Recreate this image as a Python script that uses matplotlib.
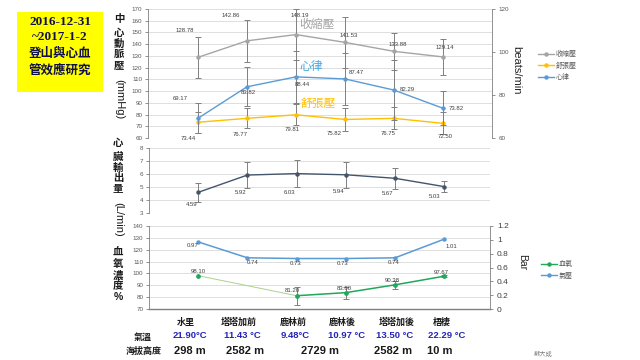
import matplotlib
matplotlib.use("Agg")
import matplotlib.pyplot as plt
from matplotlib.lines import Line2D
import numpy as np

plt.rcParams['font.family'] = ['Liberation Sans', 'Noto Sans CJK TC', 'DejaVu Sans']

# ----
# Data
# ----
sites = ["水里", "塔塔加前", "鹿林前", "鹿林後", "塔塔加後", "梧棲"]
temps = ["21.90°C", "11.43 °C", "9.48°C", "10.97 °C", "13.50 °C", "22.29 °C"]
altitudes = ["298 m", "2582 m", "2729 m", "2582 m", "10 m"]

systolic = [128.78, 142.86, 148.19, 141.53, 133.88, 129.14]
systolic_err = [17.5, 18, 22, 22, 16, 15]
diastolic = [73.44, 76.77, 79.81, 75.82, 76.75, 72.50]
diastolic_err = [9, 8.5, 9, 10, 9.5, 9.5]
heart_rate = [69.17, 83.82, 88.44, 87.47, 82.29, 73.82]
heart_rate_err = [7, 9, 12, 12, 14, 8]
cardiac_output = [4.59, 5.92, 6.03, 5.94, 5.67, 5.03]
cardiac_output_err = [0.75, 1.0, 1.05, 1.0, 0.8, 0.45]
spo2 = [98.10, np.nan, 81.20, 83.80, 90.38, 97.67]
spo2_err = [0, 0, 7.6, 5, 3.5, 1]
pressure = [0.97, 0.74, 0.73, 0.73, 0.74, 1.01]

x = np.arange(len(sites))

# colours
GRAY = "#a5a5a5"
GOLD = "#ffc000"
BLUE = "#5b9bd5"
NAVY = "#44546a"
GREEN = "#1fa85a"
ERR = "#7f7f7f"
GRID = "#d9d9d9"
TXT = "#404040"

W, H = 640, 360


def fx(px):
    return px / W


def fy(py):
    return 1 - py / H


def style_axis(ax, ticks, fs=4.5):
    ax.set_yticks(ticks)
    ax.tick_params(axis="y", labelsize=fs, length=2, width=0.6, colors=ERR, labelcolor="#595959", pad=2)
    ax.tick_params(axis="x", bottom=False, labelbottom=False)
    for s in ["top", "right", "bottom"]:
        ax.spines[s].set_visible(False)
    ax.spines["left"].set_color(ERR)
    ax.spines["left"].set_linewidth(0.6)
    ax.grid(axis="y", color=GRID, linewidth=0.6)
    ax.set_axisbelow(True)


def labels(ax, vals, offsets, fmt="{:.2f}"):
    for i, (v, off) in enumerate(zip(vals, offsets)):
        if np.isnan(v):
            continue
        ax.annotate(fmt.format(v), (x[i], v), xytext=off, textcoords="offset pixels",
                    ha="center", va="center", fontsize=4.3, color=TXT)


def handle(color):
    return Line2D([], [], color=color, lw=1, marker="o", ms=2.2)


fig = plt.figure(figsize=(W / 100, H / 100), dpi=100)

# ----
# Panel 1: blood pressure + heart rate
# ----
ax1 = fig.add_axes([fx(148), fy(138), fx(492 - 148), (138 - 9) / H])
style_axis(ax1, np.arange(60, 171, 10))
ax1.set_ylim(60, 170)
ax1.set_xlim(-1.02, 6.0)
eb = dict(ecolor=ERR, elinewidth=0.7, capsize=2, capthick=0.7)
ax1.errorbar(x, systolic, yerr=systolic_err, color=GRAY, lw=1, marker="o", ms=2.2, **eb)
ax1.errorbar(x, diastolic, yerr=diastolic_err, color=GOLD, lw=1, marker="o", ms=2.2, **eb)

ax1r = ax1.twinx()
ax1r.set_ylim(60, 120)
ax1r.set_yticks([60, 80, 100, 120])
ax1r.tick_params(axis="y", labelsize=4.5, length=2, width=0.6, colors=ERR, labelcolor="#595959", pad=3)
for s in ["top", "left", "bottom"]:
    ax1r.spines[s].set_visible(False)
ax1r.spines["right"].set_color(ERR)
ax1r.spines["right"].set_linewidth(0.6)
ax1r.errorbar(x, heart_rate, yerr=heart_rate_err, color=BLUE, lw=1, marker="o", ms=2.2, **eb)

labels(ax1, systolic, [(-13, 27), (-16, 25), (4, 19), (4, 7), (4, 7), (2, 9)])
labels(ax1, diastolic, [(-10, -16), (-7, -16), (-4, -15), (-11, -14), (-6, -15), (2, -13)])
labels(ax1r, heart_rate, [(-18, 20), (1, -6), (6, -8), (11, 6), (13, 1), (13, 0)])

fig.text(fx(317), fy(25), "收縮壓", color=GRAY, fontsize=8.5, ha="center", va="center")
fig.text(fx(311), fy(67), "心律", color="#3fa8df", fontsize=8.5, ha="center", va="center")
fig.text(fx(318), fy(104), "舒張壓", color=GOLD, fontsize=8.5, ha="center", va="center")
fig.text(fx(516), fy(70), "beats/min", rotation=270, fontsize=8, ha="center", va="center", color="#262626")

fig.legend([handle(GRAY), handle(GOLD), handle(BLUE)], ["收縮壓", "舒張壓", "心律"], loc="upper left",
           bbox_to_anchor=(fx(532), fy(45)), frameon=False, fontsize=5, handlelength=2.2,
           labelspacing=0.6, handletextpad=0.3, labelcolor="#595959")

# ----
# Panel 2: cardiac output
# ----
ax2 = fig.add_axes([fx(149), fy(213), fx(490 - 149), (213 - 148) / H])
style_axis(ax2, np.arange(3, 9, 1))
ax2.set_ylim(3, 8)
ax2.set_xlim(-1.0, 5.93)
ax2.errorbar(x, cardiac_output, yerr=cardiac_output_err, color=NAVY, lw=1, marker="o", ms=2.2, **eb)
labels(ax2, cardiac_output, [(-7, -12), (-7, -17), (-7, -19), (-7, -17), (-7, -15), (-10, -10)])

# ----
# Panel 3: SpO2 + barometric pressure
# ----
ax3 = fig.add_axes([fx(149), fy(309), fx(490 - 149), (309 - 226) / H])
style_axis(ax3, np.arange(70, 141, 10))
ax3.set_ylim(70, 140)
ax3.set_xlim(-1.0, 5.93)
ax3.spines["bottom"].set_visible(True)
ax3.spines["bottom"].set_color(ERR)
ax3.spines["bottom"].set_linewidth(1)

spo2_arr = np.array(spo2)
ok = ~np.isnan(spo2_arr)
ax3.plot(x[ok][:2], spo2_arr[ok][:2], color="#a9d18e", lw=0.7)
ax3.errorbar(x[2:], spo2_arr[2:], yerr=spo2_err[2:], color=GREEN, lw=1.1, marker="o", ms=2.4, **eb)
ax3.plot(x[0], spo2_arr[0], marker="o", ms=2.4, color=GREEN)
labels(ax3, spo2, [(0, 4), (0, 0), (-4, 5), (-2, 4), (-3, 4), (-3, 4)])

ax3r = ax3.twinx()
ax3r.set_ylim(0, 1.2)
ax3r.set_yticks(np.arange(0, 1.21, 0.2))
ax3r.set_yticklabels(["0", "0.2", "0.4", "0.6", "0.8", "1", "1.2"])
ax3r.tick_params(axis="y", labelsize=6, length=2, width=0.6, colors=ERR, labelcolor="#404040", pad=3)
for s in ["top", "left", "bottom"]:
    ax3r.spines[s].set_visible(False)
ax3r.spines["right"].set_color(ERR)
ax3r.spines["right"].set_linewidth(0.6)
ax3r.plot(x, pressure, color=BLUE, lw=1.1, marker="o", ms=2.2)
labels(ax3r, pressure, [(-6, -4), (5, -5), (-1, -5), (-3, -5), (-1, -5), (7, -7)])

fig.text(fx(522), fy(262), "Bar", rotation=270, fontsize=7.5, ha="center", va="center", color="#262626")
fig.legend([handle(GREEN), handle(BLUE)], ["血氧", "氣壓"], loc="upper left",
           bbox_to_anchor=(fx(535), fy(255)), frameon=False, fontsize=5, handlelength=2.2,
           labelspacing=0.6, handletextpad=0.3, labelcolor="#595959")

# ----
# Stacked y labels
# ----
cjk = dict(fontsize=7.5, fontweight="bold", ha="center", va="center", color="#1a1a1a")
for ch, yy in zip("中心動脈壓", [19, 33, 44, 54, 65]):
    fig.text(fx(119), fy(yy), ch, **cjk)
fig.text(fx(119), fy(99), "(mmHg)", rotation=270, fontsize=8, ha="center", va="center", color="#1a1a1a")
for ch, yy in zip("心臟輸出量", [143, 157, 168, 178, 189]):
    fig.text(fx(118), fy(yy), ch, **cjk)
fig.text(fx(118), fy(219), "(L/min)", rotation=270, fontsize=8, ha="center", va="center", color="#1a1a1a")
for ch, yy in zip("血氧濃度%", [253, 264, 275, 286, 297]):
    fig.text(fx(118), fy(yy), ch, **cjk)

# ----
# Title box
# ----
fig.patches.append(plt.Rectangle((fx(17), fy(92)), fx(103 - 17), (92 - 12) / H,
                                 transform=fig.transFigure, facecolor="#ffff00", edgecolor="none"))
fig.text(fx(60), fy(22), "2016-12-31", fontsize=9.5, fontweight="bold", family="Liberation Serif",
         ha="center", va="center", color="#10104a")
fig.text(fx(60), fy(37), "~2017-1-2", fontsize=9.5, fontweight="bold", family="Liberation Serif",
         ha="center", va="center", color="#10104a")
fig.text(fx(60), fy(54), "登山與心血", fontsize=9, fontweight="bold", ha="center", va="center", color="#10104a")
fig.text(fx(60), fy(71), "管效應研究", fontsize=9, fontweight="bold", ha="center", va="center", color="#10104a")

# ----
# Bottom table
# ----
for s, xx in zip(sites, [186, 239, 293, 342, 397, 442]):
    fig.text(fx(xx), fy(322), s, fontsize=6.5, fontweight="bold", ha="center", va="center", color="#1a1a1a")
fig.text(fx(143), fy(337), "氣溫", fontsize=6.5, fontweight="bold", ha="center", va="center", color="#1a1a1a")
for t, xx in zip(temps, [190, 242, 295, 347, 395, 447]):
    fig.text(fx(xx), fy(336), t, fontsize=6.8, fontweight="bold", ha="center", va="center", color="#2424b8")
fig.text(fx(144), fy(351), "海拔高度", fontsize=6.5, fontweight="bold", ha="center", va="center", color="#1a1a1a")
for a, xx in zip(altitudes, [190, 245, 320, 393, 440]):
    fig.text(fx(xx), fy(351), a, fontsize=8, fontweight="bold", ha="center", va="center", color="#1a1a1a")
fig.text(fx(543), fy(354), "蘇大成", fontsize=4.5, ha="center", va="center", color="#7f7f7f")

fig.savefig("out.png", dpi=100)
